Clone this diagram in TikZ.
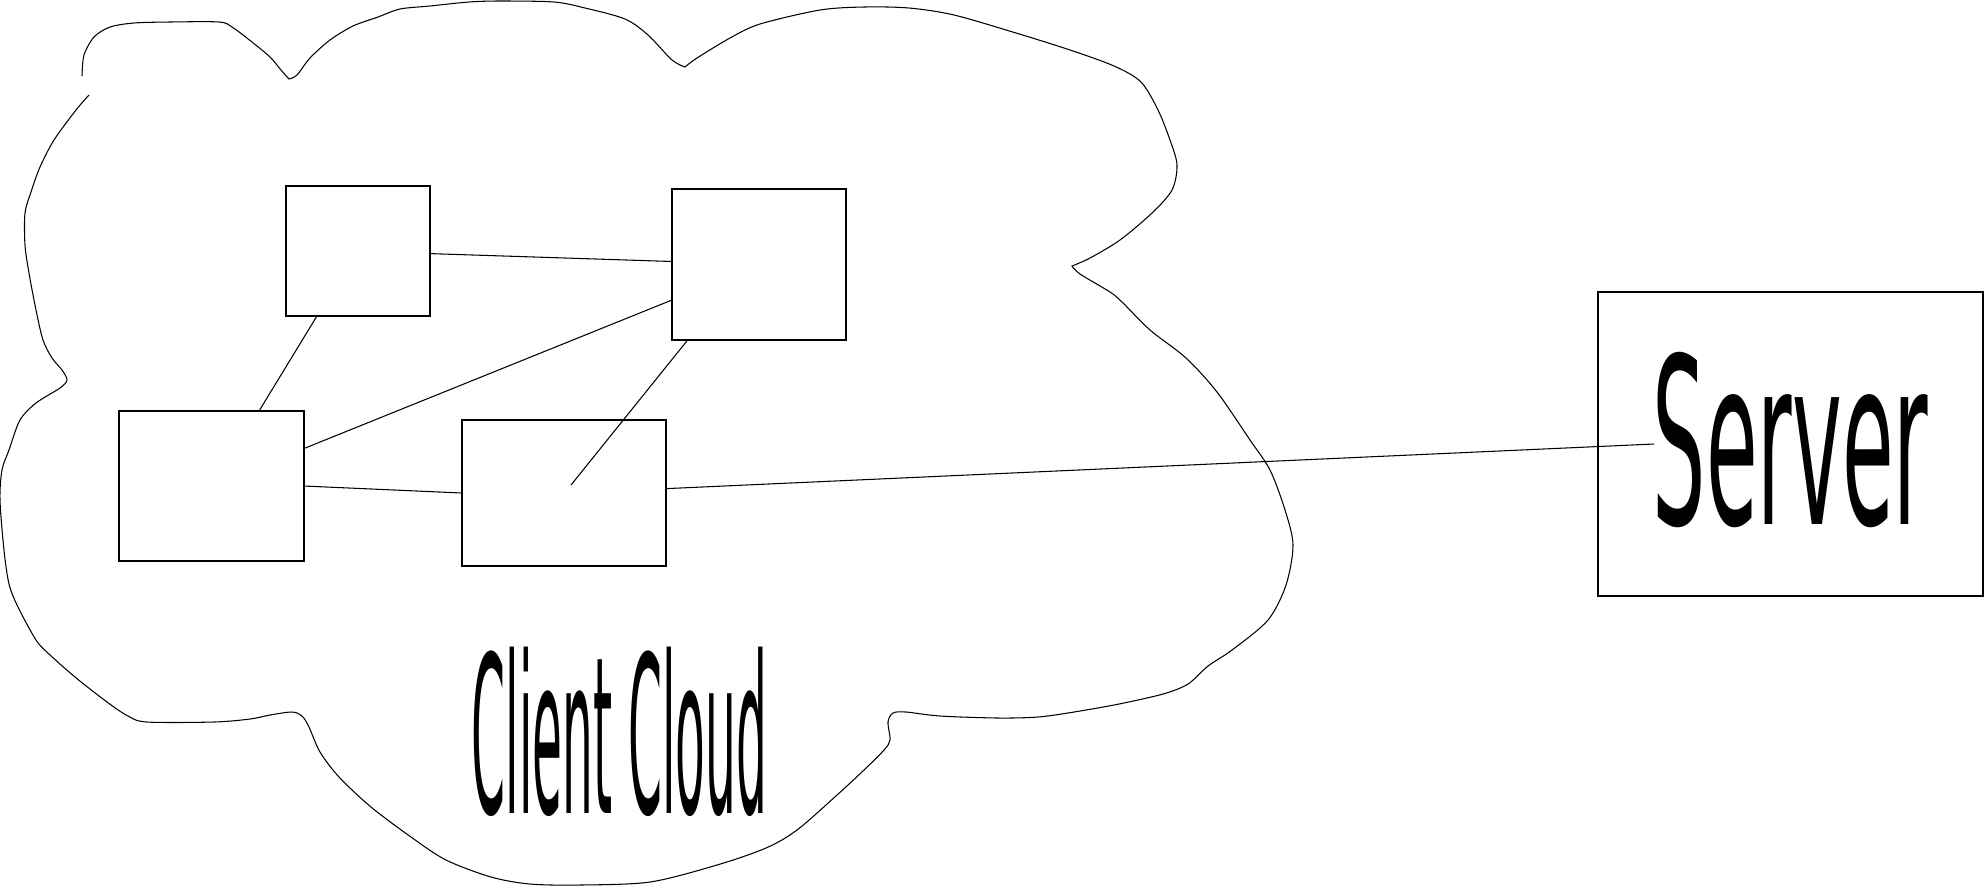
\documentclass[tikz,border=0pt]{standalone}
\usepackage{fontspec}
\setmainfont{DejaVu Sans}
\usetikzlibrary{calc}

\begin{document}
\begin{tikzpicture}[x=0.01cm,y=-0.01cm,box/.style={draw,line width=0.5pt,inner sep=0pt,outer sep=0pt},link/.style={line width=0.3pt}]
\useasboundingbox (0,0) rectangle (1985,887);
\node[box,minimum width=1.44cm,minimum height=1.30cm] (client1) at (358,251) {};
\node[box,minimum width=1.74cm,minimum height=1.51cm] (client2) at (759,264.5) {};
\node[box,minimum width=1.85cm,minimum height=1.50cm] (client3) at (211.5,486) {};
\node[box,minimum width=2.04cm,minimum height=1.46cm] (client4) at (564,493) {};
\node[box,minimum width=3.85cm,minimum height=3.04cm,font=\fontsize{66}{70}\selectfont] (server) at (1790.5,444) {\raisebox{0.12cm}{\scalebox{0.362}[1]{Server}}};
\node[inner sep=0pt,font=\fontsize{62.3}{66}\selectfont] (cloudlabel) at (619.5,731.5) {\scalebox{0.222}[1]{Client Cloud}};
\coordinate (tip4) at (571,485);
\coordinate (srvtip) at (1654,444);
\draw[link] ($(client1.north east)!0.52!(client1.south east)$) -- ($(client2.north west)!0.48!(client2.south west)$);
\draw[link] ($(client1.south west)!0.215!(client1.south east)$) -- ($(client3.north west)!0.757!(client3.north east)$);
\draw[link] ($(client3.north east)!0.25!(client3.south east)$) -- ($(client2.north west)!0.735!(client2.south west)$);
\draw[link] ($(client2.south west)!0.09!(client2.south east)$) -- (tip4);
\draw[link] (client3.east) -- (client4.west);
\draw[link] ($(client4.north east)!0.47!(client4.south east)$) -- (srvtip);
\draw[link] plot[smooth] coordinates {(82,76) (84,55) (94,37) (110,27) (134,23) (170,22) (219,22) (232,27) (252,42) (270,57) (281,70) (289,79)}
 -- plot[smooth] coordinates {(289,79) (297,75) (310,58) (330,40) (353,26) (378,17) (400,9) (430,6) (469,2) (500,1) (554,2) (585,8) (625,19) (648,35) (672,60) (685,67)}
 -- plot[smooth] coordinates {(685,67) (697,58) (730,38) (760,24) (820,10) (864,7) (909,8) (954,15) (1016,33) (1070,50) (1114,66) (1141,82) (1158,110) (1170,140) (1177,165) (1172,190) (1152,213) (1120,240) (1090,258) (1072,266)}
 -- plot[smooth] coordinates {(1072,266) (1080,274) (1110,292) (1122,302) (1150,330) (1186,358) (1217,392) (1250,440) (1270,470) (1285,510) (1293,545) (1286,585) (1268,620) (1232,650) (1208,666) (1188,684) (1163,694) (1119,704) (1074,712) (1038,717) (998,718) (940,716) (906,712) (893,713) (888,722) (890,740) (884,750) (864,770) (837,795) (797,830) (766,848) (717,865) (650,882) (580,885) (530,884) (491,877) (446,860) (411,837) (371,807) (339,777) (320,752) (309,727) (302,716) (292,712) (270,715) (250,719) (214,722) (147,722) (128,716) (107,702) (75,677) (49,654) (36,640) (18,607) (9,584) (4,550) (0,500) (2,470) (9,450) (20,420) (36,403) (60,388) (67,380) (62,370) (52,358) (43,340) (36,310) (29,273) (25,245) (25,213) (31,192) (40,167) (54,140) (76,110) (89,95)};
\end{tikzpicture}
\end{document}
